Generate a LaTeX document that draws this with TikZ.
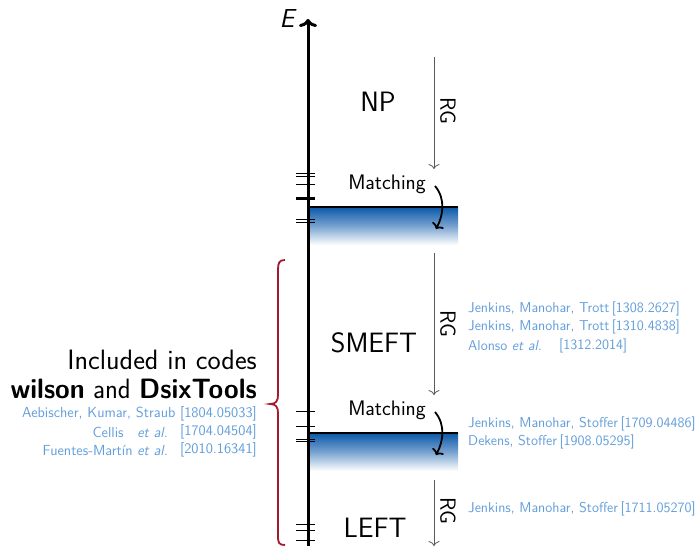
\documentclass[tikz,border=0pt]{standalone}
\usetikzlibrary{arrows.meta}
\definecolor{refblue}{RGB}{98,158,218}
\definecolor{bandblue}{RGB}{10,88,168}
\definecolor{bracered}{RGB}{165,25,45}
\begin{document}
\begin{tikzpicture}[x=1pt,y=-1pt,font=\sffamily,
  big/.style={font=\sffamily\fontsize{28}{32}\selectfont, inner sep=0pt},
  lefttxt/.style={font=\sffamily\fontsize{28}{32}\selectfont, anchor=east, inner sep=0pt},
  reftxt/.style={font=\sffamily\fontsize{14.3}{17}\selectfont, text=refblue, inner sep=0pt, anchor=west},
  lreftxt/.style={font=\sffamily\fontsize{14.6}{17}\selectfont, text=refblue, inner sep=0pt, anchor=east},
  matchtxt/.style={font=\sffamily\fontsize{21}{24}\selectfont, inner sep=0pt},
  rgtxt/.style={font=\sffamily\fontsize{22}{26}\selectfont, rotate=-90, inner sep=0pt},
  rgarrow/.style={draw=black!65, line width=0.8pt, -{Computer Modern Rightarrow[length=5pt,width=11pt]}},
  matcharrow/.style={draw=black, line width=1.8pt, -{Computer Modern Rightarrow[length=5pt,width=13pt]}},
  tick/.style={draw=black, line width=0.9pt},
  band/.style={top color=bandblue, bottom color=white, middle color=bandblue!55!white},
]
\useasboundingbox (0,0) rectangle (700,546);

% bands
\shade[band] (308,207) rectangle (458,245);
\shade[band] (308,433) rectangle (458,471);
\coordinate (b1l) at (308,207); \coordinate (b1r) at (458,207);
\coordinate (b2l) at (308,433); \coordinate (b2r) at (458,433);
\draw[line width=1.8pt] (b1l) -- (b1r);
\draw[line width=1.8pt] (b2l) -- (b2r);

% ticks
\foreach \y in {173.3,176.7,184.3,219,222.3,411,426.7,439.3,441.7,524.3,530,540}
  \draw[tick] (296,\y) -- (315,\y);
\draw[draw=black, line width=2.4pt] (296,198.3) -- (315,198.3);

% axis
\coordinate (axb) at (308,546);
\coordinate (axt) at (308,19);
\draw[line width=3pt, -{Computer Modern Rightarrow[length=8pt,width=18pt]}] (axb) -- (axt);
\node[font=\sffamily\itshape\fontsize{26}{30}\selectfont, inner sep=0pt] (E) at (287,19) {E};

% region labels
\node[big] (np) at (378,102) {NP};
\node[big] (smeft) at (374,343) {SMEFT};
\node[big] (left) at (375,528) {LEFT};

% RG arrows
\coordinate (rg1s) at (434,57);  \coordinate (rg1e) at (434,169);
\coordinate (rg2s) at (434,253); \coordinate (rg2e) at (434,395);
\coordinate (rg3s) at (434,480); \coordinate (rg3e) at (434,546);
\draw[rgarrow] (rg1s) -- (rg1e);
\draw[rgarrow] (rg2s) -- (rg2e);
\draw[rgarrow] (rg3s) -- (rg3e);
\node[rgtxt] (rg1) at (448,111) {RG};
\node[rgtxt] (rg2) at (448,324) {RG};
\node[rgtxt] (rg3) at (448,511) {RG};

% matching
\node[matchtxt] (m1) at (387,184) {Matching};
\node[matchtxt] (m2) at (387,410) {Matching};
\coordinate (m1s) at (435,186); \coordinate (m1e) at (436,229);
\coordinate (m2s) at (435,412); \coordinate (m2e) at (436,455);
\draw[matcharrow] (m1s) .. controls (446,199) and (443,216) .. (m1e);
\draw[matcharrow] (m2s) .. controls (446,425) and (443,442) .. (m2e);

% right references
\node[reftxt] (r1) at (468,309) {Jenkins, Manohar, Trott\,[1308.2627]};
\node[reftxt] (r2) at (468,327) {Jenkins, Manohar, Trott\,[1310.4838]};
\node[reftxt] (r3) at (468,346) {Alonso \textit{et al.}};
\node[reftxt] (r3b) at (559,346) {[1312.2014]};
\node[reftxt] (r4) at (468,424) {Jenkins, Manohar, Stoffer\,[1709.04486]};
\node[reftxt] (r5) at (468,442) {Dekens, Stoffer\,[1908.05295]};
\node[reftxt] (r6) at (468,509) {Jenkins, Manohar, Stoffer\,[1711.05270]};

% brace
\draw[bracered, line width=1.8pt]
  (285,260) .. controls (279,260) and (278,263) .. (278,270) -- (278,395)
  .. controls (278,401) and (276,404) .. (270,404)
  .. controls (276,404) and (278,407) .. (278,413) -- (278,536)
  .. controls (278,543) and (279,545) .. (285,545);

% left text
\node[lefttxt] (l1) at (257,360) {Included in codes};
\node[lefttxt] (l2) at (257,389) {\scalebox{0.95}[1]{\textbf{wilson} and \textbf{DsixTools}}};
\node[lreftxt] (a1) at (257,414) {Aebischer, Kumar, Straub [1804.05033]};
\node[lreftxt] (a2) at (257,432) {[1704.04504]};
\node[lreftxt] (a2n) at (168,432) {Cellis\hspace{9pt} \textit{et al.}};
\node[lreftxt] (a3) at (257,450) {[2010.16341]};
\node[lreftxt] (a3n) at (168,450) {Fuentes-Martín \textit{et al.}};
\end{tikzpicture}
\end{document}
